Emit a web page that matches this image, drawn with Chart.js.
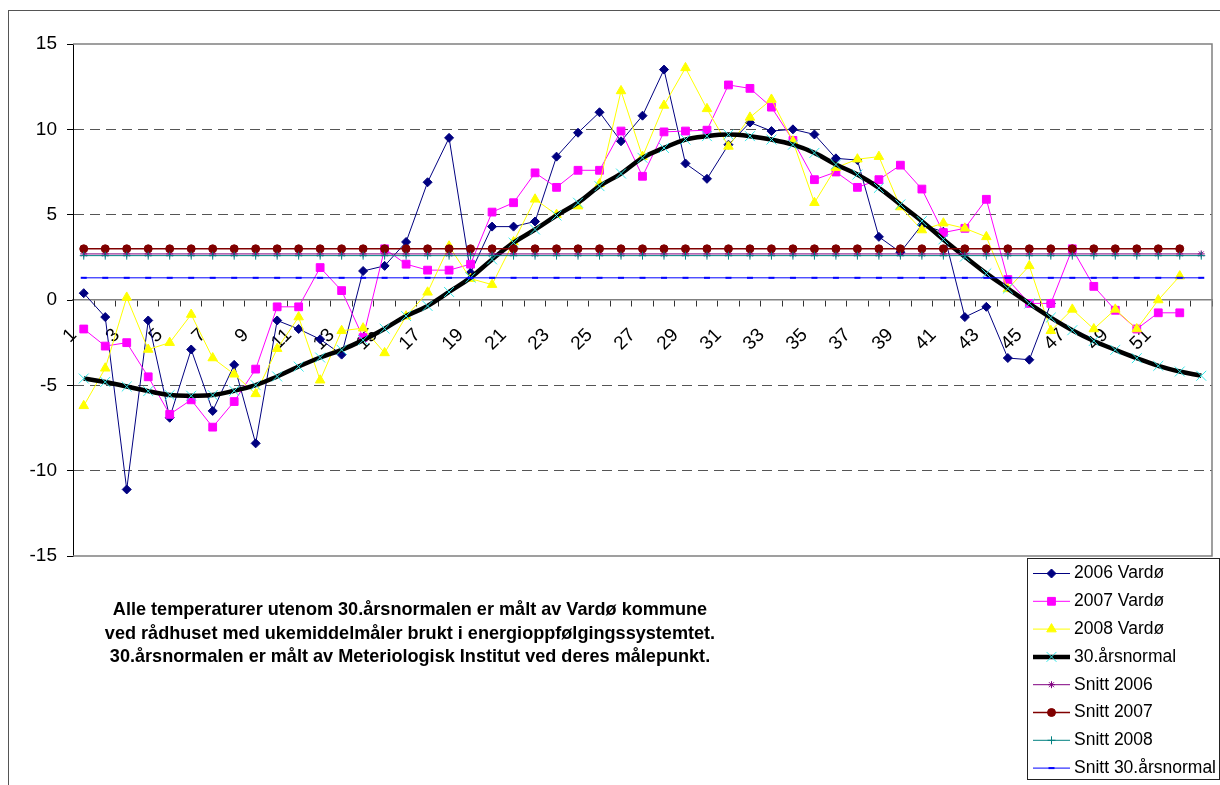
<!DOCTYPE html>
<html>
<head>
<meta charset="utf-8">
<title>Ukemiddeltemperatur Vardø</title>
<script src="https://cdn.jsdelivr.net/npm/chart.js@4.4.1/dist/chart.umd.min.js"></script>
<style>
  html, body { margin: 0; padding: 0; background: #fff; }
  #wrap { position: relative; width: 1220px; height: 785px; overflow: hidden; }
  #frame { position: absolute; left: 8px; top: 10px; width: 1240px; height: 800px;
           border-left: 1px solid #555; border-top: 1px solid #555; }
  #c { position: absolute; left: 0; top: 0; }
  #note { position: absolute; left: 60px; width: 700px; top: 598px; text-align: center;
          font: bold 18.1px 'Liberation Sans', Arial, sans-serif; line-height: 23.5px; color: #000; }
</style>
</head>
<body>
<div id="wrap">
  <div id="frame"></div>
  <canvas id="c" width="1220" height="785"></canvas>
  <div id="note">Alle temperaturer utenom 30.årsnormalen er målt av Vardø kommune<br>ved rådhuset med ukemiddelmåler brukt i energioppfølgingssystemtet.<br>30.årsnormalen er målt av Meteriologisk Institut ved deres målepunkt.</div>
</div>
<script>
// Week numbers on the category axis (the 53rd slot has no label)
const weekLabels = ['1','2','3','4','5','6','7','8','9','10','11','12','13','14','15','16','17','18','19','20',
  '21','22','23','24','25','26','27','28','29','30','31','32','33','34','35','36','37','38','39','40',
  '41','42','43','44','45','46','47','48','49','50','51','52',''];

// Weekly mean temperatures (°C)
const vardo2006 = [0.4, -1.0, -11.1, -1.2, -6.9, -2.9, -6.5, -3.8, -8.4, -1.2, -1.7, -2.3, -3.2, 1.7, 2.0,
  3.4, 6.9, 9.5, 1.6, 4.3, 4.3, 4.6, 8.4, 9.8, 11.0, 9.3, 10.8, 13.5, 8.0, 7.1, 9.1, 10.4, 9.9, 10.0,
  9.7, 8.3, 8.2, 3.7, 2.8, 4.4, 4.0, -1.0, -0.4, -3.4, -3.5, -0.2];

const vardo2007 = [-1.7, -2.7, -2.5, -4.5, -6.7, -5.85, -7.45, -5.95, -4.05, -0.4, -0.4, 1.9, 0.55, -2.2,
  3.0, 2.1, 1.75, 1.75, 2.1, 5.15, 5.7, 7.45, 6.6, 7.6, 7.6, 9.9, 7.25, 9.85, 9.9, 9.95, 12.6, 12.4,
  11.3, 9.35, 7.05, 7.5, 6.6, 7.05, 7.9, 6.5, 3.95, 4.2, 5.9, 1.2, -0.2, -0.2, 3.0, 0.8, -0.6, -1.7,
  -0.75, -0.75];

const vardo2008 = [-6.2, -4.0, 0.15, -2.9, -2.5, -0.85, -3.4, -4.35, -5.5, -2.85, -1.0, -4.7, -1.8, -1.65,
  -3.1, -0.95, 0.45, 3.15, 1.25, 0.9, 3.4, 5.9, 5.0, 5.5, 6.8, 12.25, 8.4, 11.4, 13.6, 11.2, 9.0, 10.7,
  11.75, 9.3, 5.7, 7.75, 8.25, 8.4, 5.45, 4.1, 4.5, 4.2, 3.7, 0.65, 2.0, -1.8, -0.55, -1.7, -0.55,
  -1.7, 0.0, 1.4];

const normal30 = [-4.6, -4.8, -5.07, -5.34, -5.57, -5.61, -5.57, -5.32, -4.99, -4.48, -3.9, -3.37, -2.92,
  -2.35, -1.68, -0.94, -0.35, 0.47, 1.31, 2.38, 3.36, 4.13, 4.95, 5.7, 6.67, 7.41, 8.33, 8.91, 9.4,
  9.6, 9.69, 9.6, 9.4, 9.1, 8.62, 7.94, 7.35, 6.57, 5.6, 4.62, 3.55, 2.54, 1.56, 0.67, -0.21, -1.03,
  -1.77, -2.4, -2.92, -3.41, -3.86, -4.19, -4.44];

// Yearly averages, drawn as flat reference lines across the weeks they cover
const snitt2006 = 2.7;
const snitt2007 = 3.0;
const snitt2008 = 2.6;
const snittNormal = 1.3;
const weeksSnitt2006 = 53;
const weeksSnitt2007 = 52;
const weeksSnitt2008 = 53;
const weeksSnittNormal = 53;

const yTicks = [15, 10, 5, 0, -5, -10, -15];

const flatLine = (value, count) => weekLabels.slice(0, count).map(() => value);

Chart.defaults.font.family = "'Liberation Sans', Arial, sans-serif";
Chart.defaults.font.size = 19;
Chart.defaults.color = '#000';

// Plot frame on the top, right and bottom edges (left edge is the value axis)
const plotFrame = {
  id: 'plotFrame',
  beforeDatasetsDraw(chart) {
    const { ctx, chartArea: a } = chart;
    ctx.save();
    ctx.strokeStyle = '#808080';
    ctx.lineWidth = 1.5;
    ctx.beginPath();
    ctx.moveTo(a.left, a.top); ctx.lineTo(a.right, a.top);
    ctx.lineTo(a.right, a.bottom); ctx.lineTo(a.left, a.bottom);
    ctx.stroke();
    ctx.restore();
  }
};

// Boxed legend in the lower right corner, built from the datasets
const boxLegend = {
  id: 'boxLegend',
  afterDraw(chart) {
    const ctx = chart.ctx;
    const left = 1027, top = 558, right = 1219, bottom = 779;
    const firstRow = 573.5, rowGap = 27.8;
    ctx.save();
    ctx.strokeStyle = '#222';
    ctx.lineWidth = 1;
    ctx.strokeRect(left + 0.5, top + 0.5, right - left, bottom - top);
    chart.data.datasets.forEach((ds, i) => {
      const y = firstRow + i * rowGap;
      ctx.beginPath();
      ctx.strokeStyle = ds.borderColor;
      ctx.lineWidth = ds.borderWidth;
      ctx.moveTo(1033, y); ctx.lineTo(1070, y);
      ctx.stroke();
      ctx.fillStyle = ds.pointBackgroundColor;
      ctx.strokeStyle = ds.pointBorderColor;
      ctx.lineWidth = ds.pointBorderWidth;
      Chart.helpers.drawPoint(ctx, {
        pointStyle: ds.pointStyle, radius: ds.pointRadius,
        borderWidth: ds.pointBorderWidth, rotation: 0
      }, 1051.5, y);
      ctx.fillStyle = '#000';
      ctx.font = "17.5px 'Liberation Sans', Arial, sans-serif";
      ctx.textBaseline = 'middle';
      ctx.textAlign = 'left';
      ctx.fillText(ds.label, 1074, y);
    });
    ctx.restore();
  }
};

const series = (label, data, color, style, radius, extra) => Object.assign({
  label, data,
  borderColor: color, backgroundColor: color,
  pointBackgroundColor: color, pointBorderColor: color,
  borderWidth: 1, pointStyle: style, pointRadius: radius, pointBorderWidth: 1,
  pointHoverRadius: radius, tension: 0, fill: false
}, extra || {});

const datasets = [
  series('2006 Vardø', vardo2006, '#000080', 'rectRot', 4.5, { order: 8 }),
  series('2007 Vardø', vardo2007, '#FF00FF', 'rect', 5.5, { order: 7 }),
  series('2008 Vardø', vardo2008, '#FFFF00', 'triangle', 5.5, { order: 6 }),
  series('30.årsnormal', normal30, '#000000', 'crossRot', 7, {
    order: 5, borderWidth: 4.5, tension: 0.4,
    pointBorderColor: '#33E6E6', pointBackgroundColor: '#33E6E6', pointBorderWidth: 1
  }),
  series('Snitt 2006', flatLine(snitt2006, weeksSnitt2006), '#800080', 'star', 3.5, { order: 4 }),
  series('Snitt 2007', flatLine(snitt2007, weeksSnitt2007), '#800000', 'circle', 4, { order: 3, borderWidth: 1.5 }),
  series('Snitt 2008', flatLine(snitt2008, weeksSnitt2008), '#008080', 'cross', 4, { order: 2 }),
  series('Snitt 30.årsnormal', flatLine(snittNormal, weeksSnittNormal), '#0000FF', 'line', 3,
    { order: 1, pointBorderWidth: 2 })
];

new Chart(document.getElementById('c'), {
  type: 'line',
  data: { labels: weekLabels, datasets },
  plugins: [plotFrame, boxLegend],
  options: {
    responsive: false,
    animation: false,
    events: [],
    devicePixelRatio: 1,
    layout: { padding: { left: 0, top: 44, right: 7, bottom: 229 } },
    plugins: { legend: { display: false }, tooltip: { enabled: false } },
    scales: {
      x: {
        type: 'category',
        position: { y: 0 },
        offset: true,
        afterFit(scale) {
          scale.paddingLeft = 0; scale.paddingRight = 0;
          scale.paddingTop = 0; scale.paddingBottom = 0;
        },
        grid: { offset: true, drawOnChartArea: false, drawTicks: true, tickLength: 6,
                tickColor: '#333', tickWidth: 1 },
        border: { display: true, color: '#808080', width: 1.5 },
        ticks: {
          autoSkip: false, minRotation: 45, maxRotation: 45, padding: 18, labelOffset: -10,
          color: '#000', font: { size: 19 },
          callback(value, index) { return index % 2 === 0 ? this.getLabelForValue(value) : ''; }
        }
      },
      y: {
        min: -15, max: 15,
        afterBuildTicks(scale) { scale.ticks = yTicks.map(v => ({ value: v })); },
        afterFit(scale) {
          scale.width = 73;
          scale.paddingTop = 0; scale.paddingBottom = 0;
        },
        ticks: { color: '#000', padding: 10, font: { size: 19 } },
        grid: {
          color: (c) => (c.tick && [15, 0, -15].includes(c.tick.value)) ? 'rgba(0,0,0,0)' : '#555',
          lineWidth: 1, drawTicks: true, tickLength: 6, tickColor: '#000', tickWidth: 1
        },
        border: { display: true, color: '#000', width: 1, dash: [10, 6] }
      }
    }
  }
});
</script>
</body>
</html>
